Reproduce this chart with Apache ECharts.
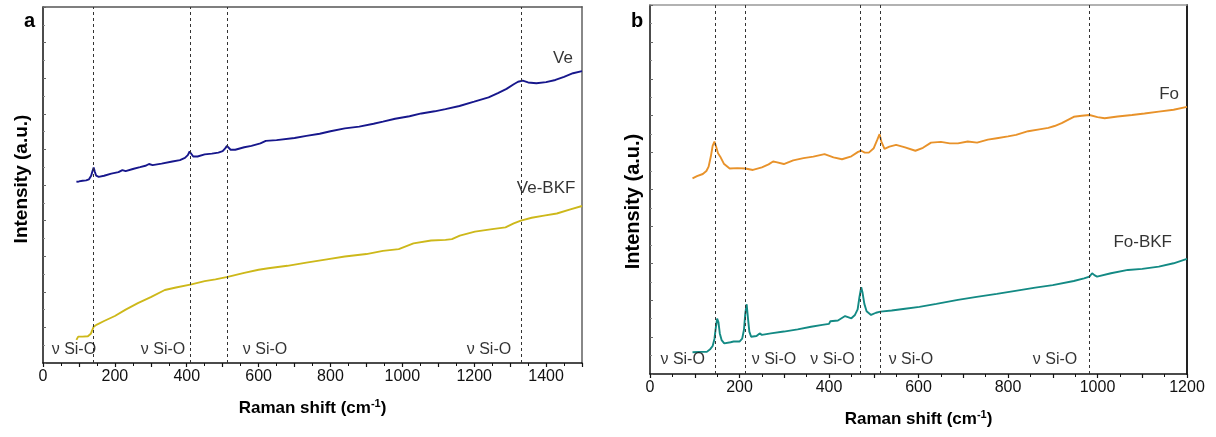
<!DOCTYPE html>
<html>
<head>
<meta charset="utf-8">
<script src="https://cdn.jsdelivr.net/npm/echarts@6/dist/echarts.min.js"></script>
<style>
html,body{margin:0;padding:0;background:#fff;}
#chart{width:1216px;height:437px;}
</style>
</head>
<body>
<div id="chart"></div>
<script>
// ---------- data ----------
const xTicksA = [0, 200, 400, 600, 800, 1000, 1200, 1400];
const xTicksB = [0, 200, 400, 600, 800, 1000, 1200];

const ve = [[93,50.9],[100,51.0],[110,51.2],[120,51.3],[128,51.6],[134,52.6],[138,54.0],[141,54.9],[144,53.8],[148,52.6],[155,52.3],[170,52.6],[190,53.2],[210,53.6],[221,54.2],[230,53.9],[250,54.5],[270,55.0],[285,55.4],[295,55.9],[305,55.6],[330,56.0],[360,56.6],[381,57.0],[395,57.6],[403,58.4],[408,59.4],[412,59.0],[418,58.0],[430,58.0],[450,58.6],[470,58.8],[488,59.1],[500,59.5],[507,60.3],[512,61.0],[516,60.6],[522,59.9],[535,59.9],[560,60.6],[580,61.0],[605,61.7],[620,62.4],[650,62.6],[700,63.2],[733,63.8],[770,64.4],[800,65.1],[840,65.9],[880,66.4],[920,67.2],[946,67.8],[980,68.6],[1020,69.3],[1053,70.1],[1090,70.7],[1120,71.3],[1159,72.2],[1200,73.4],[1240,74.6],[1266,75.8],[1290,77.0],[1310,78.3],[1322,79.0],[1335,79.3],[1350,78.8],[1373,78.6],[1400,78.9],[1426,79.5],[1450,80.4],[1475,81.4],[1500,82.0]];

const veBKF = [[93,6.5],[98,7.4],[110,7.4],[125,7.5],[133,8.2],[141,10.2],[150,10.8],[170,11.8],[200,13.2],[230,15.0],[264,16.8],[300,18.5],[339,20.5],[370,21.2],[413,22.1],[450,23.0],[480,23.5],[514,24.2],[560,25.3],[600,26.2],[627,26.6],[680,27.3],[733,28.2],[790,29.1],[840,29.9],[900,30.6],[946,31.5],[990,32.0],[1031,33.6],[1080,34.4],[1120,34.6],[1138,34.8],[1160,35.8],[1202,36.9],[1250,37.6],[1287,38.1],[1310,39.2],[1330,40.0],[1360,40.8],[1394,41.4],[1430,42.0],[1470,43.2],[1500,44.1]];

const fo = [[95,53.0],[105,53.6],[118,54.2],[126,55.0],[131,56.2],[136,59.0],[140,61.8],[144,63.0],[148,61.5],[152,59.8],[157,58.9],[165,57.0],[178,55.7],[195,55.8],[213,55.7],[230,55.3],[250,56.0],[265,56.8],[275,57.6],[282,57.4],[299,56.9],[320,57.9],[343,58.5],[365,58.9],[390,59.6],[410,58.7],[429,58.2],[450,59.0],[465,60.2],[472,60.5],[480,60.0],[489,60.0],[500,61.2],[508,63.5],[513,65.0],[517,63.0],[524,61.0],[535,61.6],[550,62.1],[570,61.4],[593,60.5],[610,61.3],[628,62.7],[650,62.9],[670,62.5],[688,62.5],[710,63.0],[731,62.7],[755,63.5],[775,63.9],[800,64.4],[818,64.8],[845,65.8],[870,66.3],[890,66.7],[904,67.2],[920,68.0],[947,69.7],[965,70.0],[982,70.2],[1000,69.6],[1016,69.3],[1045,69.8],[1077,70.2],[1105,70.6],[1137,71.1],[1170,71.6],[1200,72.4]];

const foBKF = [[95,5.9],[110,6.0],[127,6.0],[135,6.8],[140,7.6],[144,9.5],[147,12.5],[150,15.0],[153,14.0],[156,11.0],[160,9.2],[166,8.3],[170,8.1],[180,8.6],[187,8.8],[200,8.8],[206,9.6],[210,12.0],[213,16.5],[216,18.9],[219,15.0],[222,11.5],[226,10.1],[238,10.3],[245,11.0],[250,10.6],[270,11.0],[299,11.5],[330,12.1],[360,12.8],[385,13.3],[400,13.6],[403,14.3],[406,13.8],[420,14.5],[436,15.7],[450,15.1],[458,16.0],[464,17.5],[468,20.8],[472,23.5],[475,22.0],[479,19.0],[484,17.0],[494,16.0],[505,16.6],[515,16.9],[540,17.2],[570,17.7],[602,18.2],[640,19.0],[688,20.1],[730,20.9],[775,21.7],[820,22.6],[861,23.4],[900,24.1],[947,25.2],[970,25.9],[982,26.4],[988,27.3],[993,26.8],[999,26.4],[1030,27.3],[1068,28.2],[1100,28.5],[1137,29.1],[1170,30.0],[1200,31.2]];

// dashed reference lines (Raman shift positions)
const dashA = [141, 410, 514, 1331];
const dashB = [146, 213, 469, 514, 982];

// "ν Si-O" annotation positions [x, y]
const bandText = 'ν Si-O';
const siA = [[86, 3.9], [334, 3.9], [618, 3.9], [1241, 3.9]];
const siB = [[73, 3.8], [277, 3.8], [408, 3.8], [583, 3.8], [905, 3.8]];

// series name labels
const seriesNames = ['Ve', 'Ve-BKF', 'Fo', 'Fo-BKF'];
const nameA = [[1447, 85.7], [1400, 49.0]];
const nameB = [[1160, 75.9], [1101, 35.6]];

const colors = { ve: '#17178c', veBKF: '#cdb81a', fo: '#e8922a', foBKF: '#138a84' };

// ---------- chart ----------
const FONT = '"Liberation Sans", Arial, sans-serif';
const chart = echarts.init(document.getElementById('chart'), null, { renderer: 'canvas' });

function bottomAxis(grid, max, ticks, interval) {
  return {
    type: 'value', gridIndex: grid, position: 'bottom', min: 0, max: max, interval: interval,
    name: 'Raman shift (cm{sup|-1})', nameLocation: 'middle', nameGap: 35,
    nameTextStyle: { fontFamily: FONT, fontSize: 17, fontWeight: 'bold', color: '#000',
      rich: { sup: { fontFamily: FONT, fontSize: 11, fontWeight: 'bold', color: '#000', verticalAlign: 'top', padding: [0, 0, 9, 0] } } },
    axisLine: { show: true, onZero: false, lineStyle: { color: '#111', width: 1.5 } },
    axisTick: { show: true, inside: false, length: 4, lineStyle: { color: '#111', width: 1.2 } },
    minorTick: { show: true, splitNumber: 2, length: 3, lineStyle: { color: '#111', width: 1 } },
    axisLabel: { fontFamily: FONT, fontSize: 16, color: '#111', margin: 6,
      formatter: v => ticks.indexOf(v) >= 0 ? String(v) : '' },
    splitLine: { show: false }
  };
}
function topAxis(grid, max, color) {
  return {
    type: 'value', gridIndex: grid, position: 'top', min: 0, max: max,
    axisLine: { show: true, onZero: false, lineStyle: { color: color, width: 1.5 } },
    axisTick: { show: false }, axisLabel: { show: false }, splitLine: { show: false }
  };
}
function leftAxis(grid, size, gap, pad) {
  return {
    type: 'value', gridIndex: grid, position: 'left', min: 0, max: 100, interval: 10,
    name: 'Intensity (a.u.)', nameLocation: 'middle', nameGap: gap,
    nameTextStyle: { fontFamily: FONT, fontSize: size, fontWeight: 'bold', color: '#000', padding: pad },
    axisLine: { show: true, onZero: false, lineStyle: { color: '#111', width: 1.5 } },
    axisTick: { show: true, inside: true, length: 3, lineStyle: { color: '#666', width: 1 } },
    minorTick: { show: true, splitNumber: 2, length: 2, lineStyle: { color: '#888', width: 1 } },
    axisLabel: { show: false }, splitLine: { show: false }
  };
}
function rightAxis(grid, color) {
  return {
    type: 'value', gridIndex: grid, position: 'right', min: 0, max: 100,
    axisLine: { show: true, onZero: false, lineStyle: { color: color, width: 2 } },
    axisTick: { show: false }, axisLabel: { show: false }, splitLine: { show: false }
  };
}
function lineSeries(name, data, color, xi, yi, dashes) {
  const s = {
    name: name, type: 'line', xAxisIndex: xi, yAxisIndex: yi, data: data,
    showSymbol: false, symbol: 'none', smooth: false,
    lineStyle: { color: color, width: 1.9 }, z: 3
  };
  if (dashes) {
    s.markLine = {
      silent: true, symbol: ['none', 'none'], label: { show: false },
      lineStyle: { color: '#333', type: [3, 3], width: 1 },
      data: dashes.map(x => ({ xAxis: x }))
    };
  }
  return s;
}
function textSeries(points, names, xi, yi, size) {
  return {
    type: 'scatter', xAxisIndex: xi, yAxisIndex: yi, symbolSize: 0, silent: true, z: 5,
    data: points.map((p, i) => ({ value: p, name: names[i] })),
    label: { show: true, position: 'inside', formatter: '{b}', fontFamily: FONT, fontSize: size,
      color: '#000', textBorderWidth: 0, textShadowBlur: 0 }
  };
}

const option = {
  animation: false,
  backgroundColor: '#fff',
  grid: [
    { left: 43, top: 7, width: 539, height: 356 },
    { left: 650, top: 5, width: 537, height: 369 }
  ],
  xAxis: [
    bottomAxis(0, 1500, xTicksA, 100),
    topAxis(0, 1500, '#555'),
    bottomAxis(1, 1200, xTicksB, 100),
    topAxis(1, 1200, '#999')
  ],
  yAxis: [
    leftAxis(0, 19, 12, [0, 0, 0, 12]),
    rightAxis(0, '#888'),
    leftAxis(1, 20, 7, [0, 24, 0, 0]),
    rightAxis(1, '#222')
  ],
  graphic: [
    { type: 'text', left: 24, top: 11, style: { text: 'a', font: 'bold 20px ' + FONT, fill: '#000' } },
    { type: 'text', left: 631, top: 11, style: { text: 'b', font: 'bold 20px ' + FONT, fill: '#000' } }
  ],
  series: [
    lineSeries('Ve', ve, colors.ve, 0, 0, dashA),
    lineSeries('Ve-BKF', veBKF, colors.veBKF, 0, 0, null),
    lineSeries('Fo', fo, colors.fo, 2, 2, dashB),
    lineSeries('Fo-BKF', foBKF, colors.foBKF, 2, 2, null),
    textSeries(siA, siA.map(() => bandText), 0, 0, 16),
    textSeries(siB, siB.map(() => bandText), 2, 2, 16),
    textSeries(nameA, seriesNames.slice(0, 2), 0, 0, 17),
    textSeries(nameB, seriesNames.slice(2, 4), 2, 2, 17)
  ]
};
chart.setOption(option);
</script>
</body>
</html>
